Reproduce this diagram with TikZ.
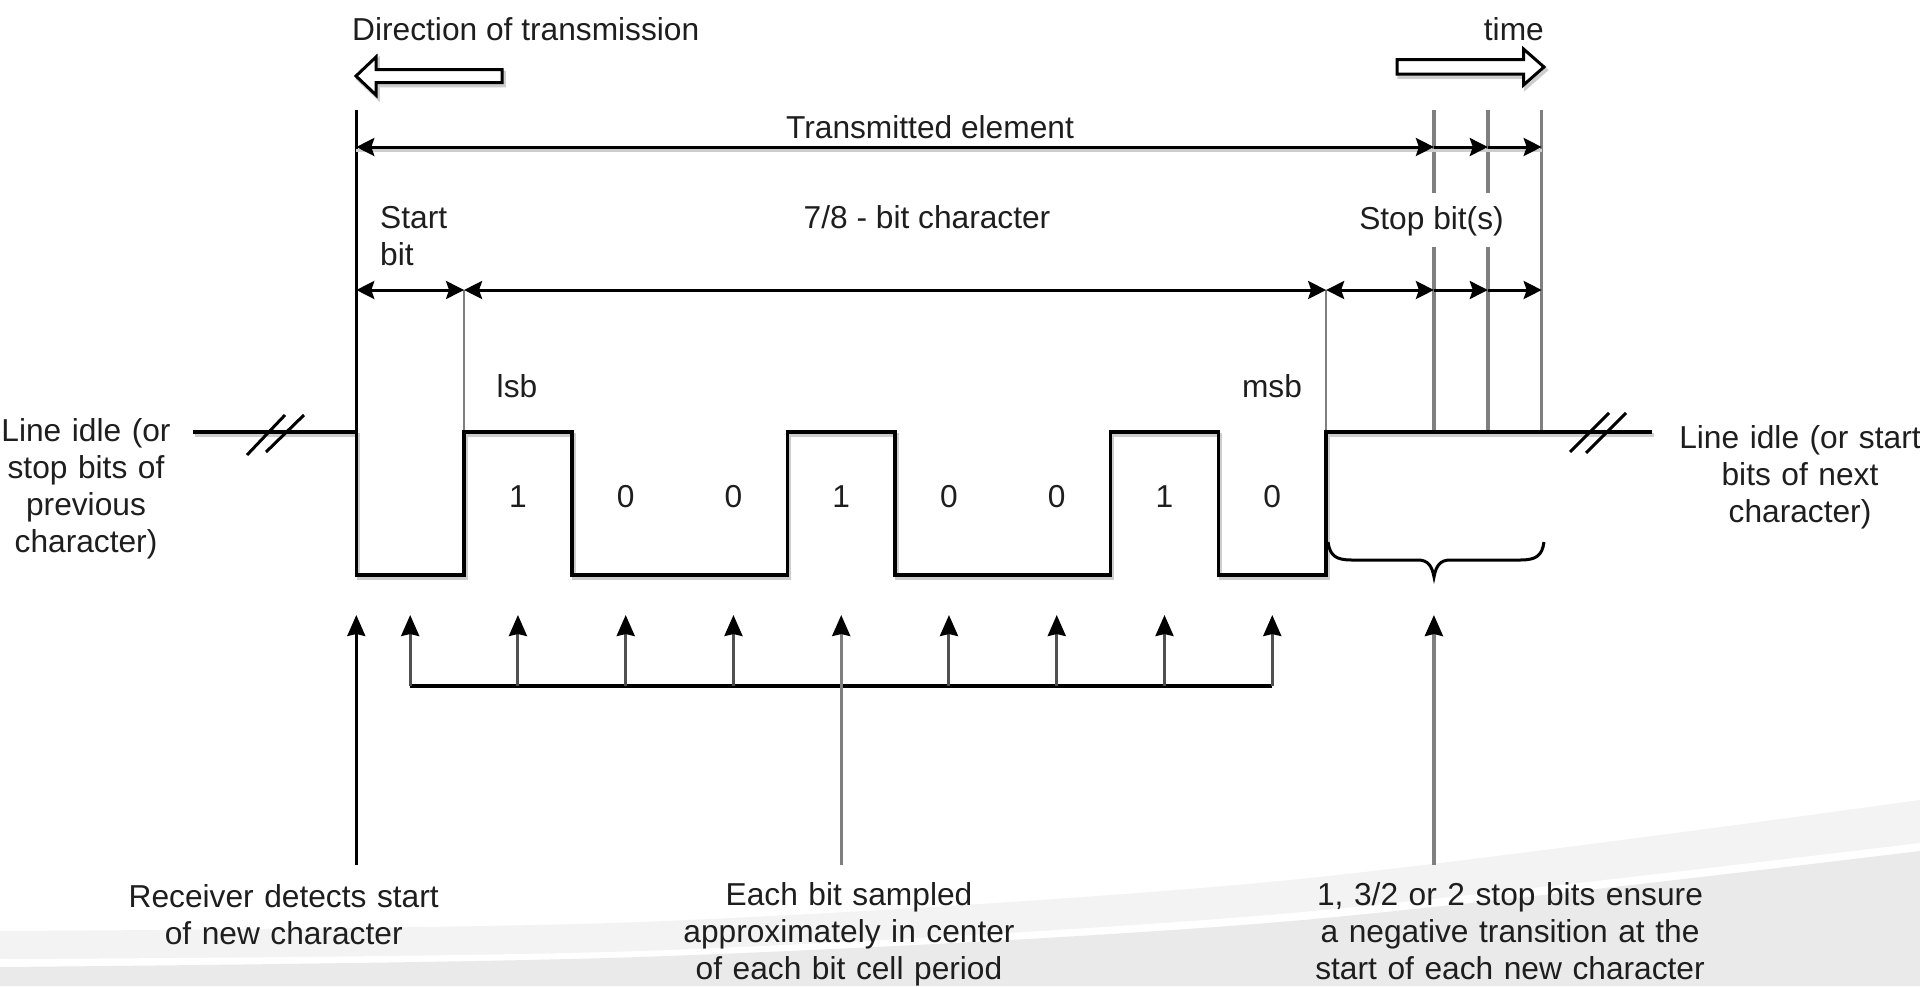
\documentclass[tikz,border=0pt]{standalone}
\usepackage{fontspec}
\setmainfont{Liberation Sans}
\usetikzlibrary{arrows.meta,calc}
\definecolor{txt}{HTML}{1E1E1E}
\definecolor{gln}{HTML}{7F7F7F}
\definecolor{cmb}{HTML}{505050}
\definecolor{bgA}{HTML}{F3F3F3}
\definecolor{bgB}{HTML}{EAEAEA}
\definecolor{shd}{HTML}{CDCDCD}
\begin{document}
\begin{tikzpicture}[x=1pt,y=-1pt,
  lbl/.style={font=\fontsize{31.7}{37}\selectfont, inner sep=0pt, text=txt},
  mlbl/.style={lbl, align=center, text width=#1},
  sig/.style={line width=3.5pt, black, line join=miter},
  shadowln/.style={line width=3.5pt, shd, line join=miter},
  dimln/.style={line width=3pt, black},
  dd/.style={dimln, {Stealth[length=18pt,width=18pt,inset=3pt]}-{Stealth[length=18pt,width=18pt,inset=3pt]}},
  dr/.style={dimln, -{Stealth[length=18pt,width=18pt,inset=3pt]}},
  gv/.style={line width=3.5pt, gln},
  thinv/.style={line width=2.5pt, gln},
  up/.style={-{Stealth[length=21pt,width=18pt,inset=2pt,color=black]}},
  hollow/.style={line width=3pt, black, fill=white, line join=miter},
]
\useasboundingbox (0,0) rectangle (1920,986);
\fill[white] (0,0) rectangle (1920,986);
% background swoosh
\fill[bgA] plot[smooth] coordinates {(0,931) (640,922) (1280,881) (1920,800)} -- (1920,986) -- (0,986) -- cycle;
\fill[white] plot[smooth] coordinates {(0,959) (640,951) (1280,914) (1920,843)} -- (1920,986) -- (0,986) -- cycle;
\fill[bgB] plot[smooth] coordinates {(0,967) (640,957) (1280,922) (1920,851)} -- (1920,986) -- (0,986) -- cycle;

% grid coordinates
\def\bw{107.76}
\foreach \k in {0,...,11} {\coordinate (x\k) at ({356.3+\k*\bw},0);}
\foreach \k in {0,...,10} {\coordinate (m\k) at ({356.3+(\k+0.5)*\bw},0);}
\coordinate (x10h) at ({356.3+10.5*\bw},0);
\coordinate (hi) at (0,432);
\coordinate (lo) at (0,575);
\coordinate (top) at (0,110);
\coordinate (r1) at (0,147);
\coordinate (r2) at (0,290);
\coordinate (g1) at (0,193);
\coordinate (g2) at (0,247);
\coordinate (tip) at (0,615);
\coordinate (comb) at (0,686);
\coordinate (bot) at (0,865);
\coordinate (idleL) at (193,432);
\coordinate (idleR) at (1652,432);

% hollow direction arrows
\def\larrow{(356,76) -- (376,57) -- (376,69.5) -- (502,69.5) -- (502,82.5) -- (376,82.5) -- (376,95) -- cycle}
\def\rarrow{(1544,67) -- (1523.5,49) -- (1523.5,59.5) -- (1397,59.5) -- (1397,74) -- (1523.5,74) -- (1523.5,85) -- cycle}
\begin{scope}[transform canvas={xshift=2pt,yshift=-3pt}]
  \draw[shadowln] \larrow;
  \draw[shadowln] \rarrow;
\end{scope}
\draw[hollow] \larrow;
\draw[hollow] \rarrow;
\node[lbl, anchor=base west] (dir) at (352,40) {Direction of transmission};
\node[lbl, anchor=base east] (time) at (1544,40) {time};

% vertical reference lines
\draw[line width=2.5pt, black] (x0|-top) -- (x0|-hi);
\draw[thinv] (x1|-r2) -- (x1|-hi);
\draw[thinv] (x9|-r2) -- (x9|-hi);
\draw[gv] (x10|-top) -- (x10|-g1);
\draw[gv] (x10|-g2) -- (x10|-hi);
\draw[gv] (x10h|-top) -- (x10h|-g1);
\draw[gv] (x10h|-g2) -- (x10h|-hi);
\draw[gv] (x11|-top) -- (x11|-hi);

% dimension rows
\begin{scope}[transform canvas={xshift=0pt,yshift=-3pt}]
  \draw[line width=3pt, shd] (x0|-r1) -- (x11|-r1);
\end{scope}
\draw[dd] (x0|-r1) -- (x10|-r1);
\draw[dr] (x10|-r1) -- (x10h|-r1);
\draw[dr] (x10h|-r1) -- (x11|-r1);
\node[lbl, anchor=base] (te) at (930,138) {Transmitted element};

\draw[dd] (x0|-r2) -- (x1|-r2);
\draw[dd] (x1|-r2) -- (x9|-r2);
\draw[dd] (x9|-r2) -- (x10|-r2);
\draw[dr] (x10|-r2) -- (x10h|-r2);
\draw[dr] (x10h|-r2) -- (x11|-r2);
\node[mlbl=90pt, align=left, anchor=base west] (sb) at (380,228) {Start\\bit};
\node[lbl, anchor=base] (ch) at (927,228) {7/8 - bit character};
\node[lbl, anchor=base] (stop) at (1431.5,229) {Stop bit(s)};

% signal
\def\sigpath{(idleL) -- (x0|-hi) -- (x0|-lo) -- (x1|-lo) -- (x1|-hi) -- (x2|-hi) -- (x2|-lo) -- (x4|-lo) -- (x4|-hi) -- (x5|-hi) -- (x5|-lo) -- (x7|-lo) -- (x7|-hi) -- (x8|-hi) -- (x8|-lo) -- (x9|-lo) -- (x9|-hi) -- (idleR)}
\begin{scope}[transform canvas={xshift=2pt,yshift=-3pt}]
  \draw[shadowln] \sigpath;
\end{scope}
\draw[sig] \sigpath;
% break marks
\draw[line width=3pt] (247,455) -- (285,415);
\draw[line width=3pt] (266,452) -- (304,415);
\draw[line width=3pt] (1570,452) -- (1609,413);
\draw[line width=3pt] (1586,453) -- (1626,413);

\node[lbl, anchor=base] (lsb) at (517,397) {lsb};
\node[lbl, anchor=base] (msb) at (1272,397) {msb};
\foreach \k/\v in {1/1,2/0,3/0,4/1,5/0,6/0,7/1,8/0}
  {\node[lbl, anchor=base] (d\k) at ($(m\k)+(0,507)$) {\v};}

\node[mlbl=200pt, anchor=base] (idl) at (86,441) {Line idle (or\\stop bits of\\previous\\character)};
\node[mlbl=260pt, anchor=base] (idr) at (1800,448) {Line idle (or start\\bits of next\\character)};

% brace under stop bits
\draw[line width=3pt] (1328,542) .. controls (1330,556) and (1336,560) .. (1352,560) -- (1418,560) .. controls (1428,560) and (1432,566) .. (1434,577) .. controls (1436,566) and (1440,560) .. (1450,560) -- (1520,560) .. controls (1536,560) and (1542,556) .. (1544,542);

% sampling arrows
\draw[line width=2.5pt, black, up] (x0|-bot) -- (x0|-tip);
\draw[line width=3.5pt, black] (m0|-comb) -- (m8|-comb);
\foreach \k in {0,1,2,3,5,6,7,8}
  {\draw[line width=3pt, cmb, up] (m\k|-comb) -- (m\k|-tip);}
\draw[line width=3pt, gln, up] (m4|-bot) -- (m4|-tip);
\draw[line width=3.5pt, gln, up] (x10|-bot) -- (x10|-tip);

\node[mlbl=340pt, anchor=base] (rx) at (283.7,907) {Receiver detects start\\of new character};
\node[mlbl=360pt, anchor=base] (smp) at (849,905) {Each bit sampled\\approximately in center\\of each bit cell period};
\node[mlbl=400pt, anchor=base] (nt) at (1510,905) {1, 3/2 or 2 stop bits ensure\\a negative transition at the\\start of each new character};
\end{tikzpicture}
\end{document}
